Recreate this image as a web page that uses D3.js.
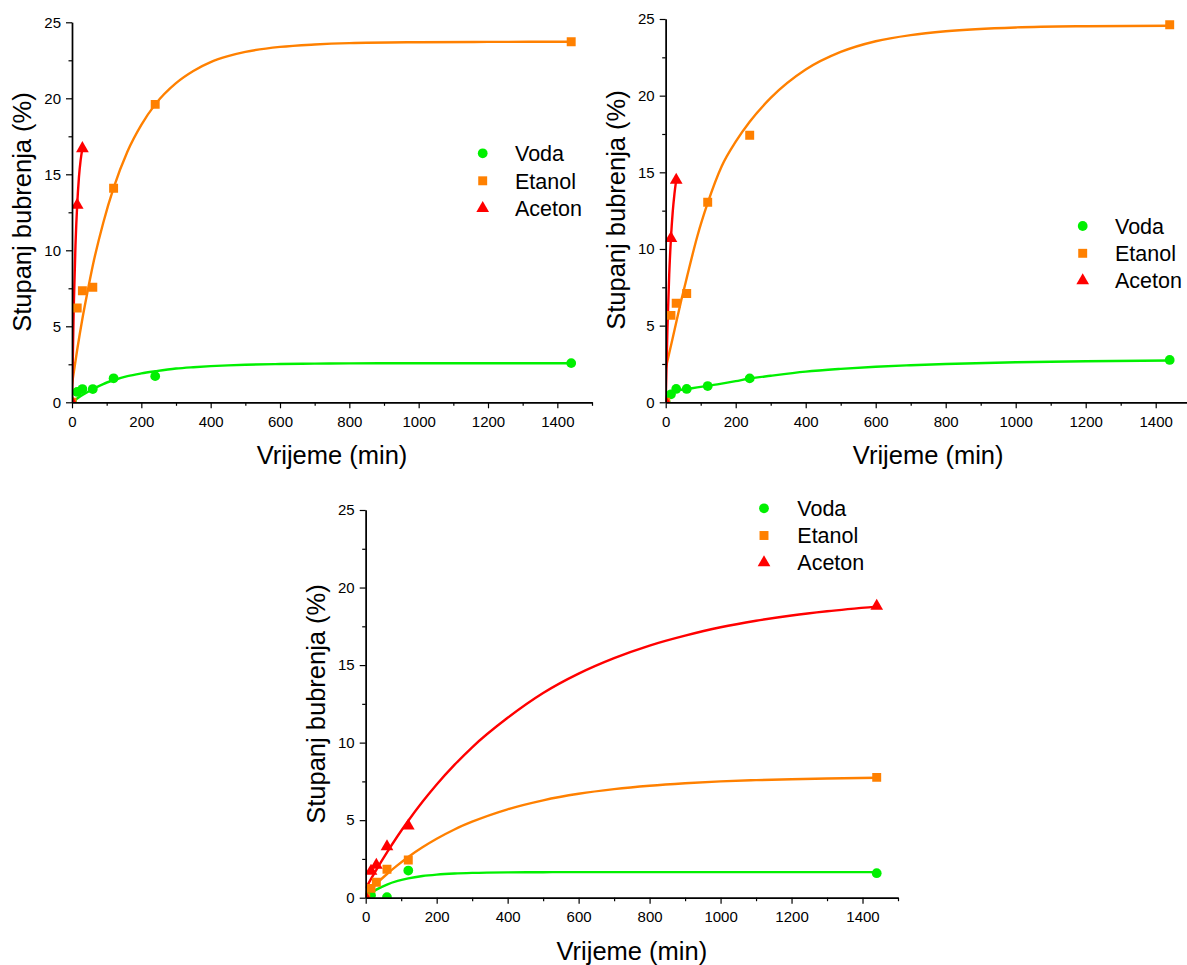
<!DOCTYPE html>
<html>
<head>
<meta charset="utf-8">
<script src="https://cdn.jsdelivr.net/npm/d3@7"></script>
<style>
  html, body { margin: 0; padding: 0; background: #fff; }
  svg text { font-family: "Liberation Sans", Arial, sans-serif; fill: #000; }
</style>
</head>
<body>
<script>
// ---------- DATA ----------
const seriesNames = ["Voda", "Etanol", "Aceton"];
const xTickLabels = [0, 200, 400, 600, 800, 1000, 1200, 1400];
const yTickLabels = [0, 5, 10, 15, 20, 25];
const xTitle = "Vrijeme (min)";
const yTitle = "Stupanj bubrenja (%)";

// Panel 1 (top left)
const times1 = [0, 15, 30, 60, 120, 240, 1440];
const voda1 = [0, 0.68, 0.87, 0.87, 1.58, 1.72, 2.58];
const etanol1 = [0, 6.2, 7.34, 7.57, 14.08, 19.6, 23.72];
const acetonTimes1 = [0, 15, 30];
const aceton1 = [0, 12.98, 16.7];
const fitT1 = [0, 15, 30, 45, 60, 90, 120, 160, 200, 240, 300, 350, 400, 450, 500, 600, 700, 800, 1000, 1200, 1440];
const fitVoda1 = [0, 0.25, 0.48, 0.68, 0.87, 1.2, 1.45, 1.72, 1.9, 2.04, 2.22, 2.31, 2.38, 2.43, 2.47, 2.52, 2.545, 2.56, 2.57, 2.57, 2.57];
const fitEtanol1 = [1.2, 3.46, 5.5, 7.3, 9.0, 11.8, 14.1, 16.5, 18.25, 19.6, 21.0, 21.8, 22.38, 22.77, 23.05, 23.38, 23.54, 23.63, 23.69, 23.71, 23.72];
const fitAcetonT1 = [0, 5, 10, 15, 20, 25, 30];
const fitAceton1 = [0, 6.2, 10.3, 13.0, 14.8, 15.95, 16.7];

// Panel 2 (top right)
const times2 = [0, 15, 30, 60, 120, 240, 1440];
const voda2 = [0, 0.52, 0.87, 0.87, 1.06, 1.56, 2.76];
const etanol2 = [0, 5.67, 6.46, 7.1, 13.05, 17.42, 24.63];
const acetonTimes2 = [0, 15, 30];
const aceton2 = [0, 10.7, 14.5];
const fitT2 = [0, 10, 20, 30, 45, 60, 90, 120, 160, 200, 240, 300, 400, 500, 600, 700, 800, 1000, 1200, 1440];
const fitVoda2 = [0.1, 0.45, 0.65, 0.75, 0.82, 0.87, 0.97, 1.07, 1.22, 1.38, 1.55, 1.73, 2.0, 2.18, 2.32, 2.42, 2.5, 2.61, 2.68, 2.73];
const fitEtanol2 = [2.2, 3.2, 4.2, 5.2, 6.7, 8.1, 10.8, 13.0, 15.4, 17.0, 18.3, 19.85, 21.7, 22.85, 23.55, 23.95, 24.2, 24.45, 24.53, 24.56];
const fitAcetonT2 = [0, 5, 10, 15, 20, 25, 30];
const fitAceton2 = [0, 4.85, 8.3, 10.7, 12.4, 13.6, 14.5];

// Panel 3 (bottom)
const vodaTimes3 = [0, 15, 60, 120, 1440];
const voda3 = [0, 0.15, 0.03, 1.75, 1.58];
const times3 = [0, 15, 30, 60, 120, 1440];
const etanol3 = [0, 0.6, 1.0, 1.83, 2.43, 7.76];
const aceton3 = [0, 1.72, 2.11, 3.29, 4.64, 18.8];
const fitT3 = [0, 15, 30, 60, 90, 120, 160, 200, 250, 300, 400, 500, 600, 700, 800, 900, 1000, 1100, 1200, 1300, 1440];
const fitVoda3 = [0.05, 0.3, 0.52, 0.85, 1.08, 1.25, 1.4, 1.49, 1.56, 1.6, 1.635, 1.645, 1.65, 1.65, 1.65, 1.65, 1.65, 1.65, 1.65, 1.65, 1.65];
const fitEtanol3 = [0.2, 0.56, 0.9, 1.53, 2.1, 2.63, 3.25, 3.8, 4.4, 4.9, 5.7, 6.28, 6.7, 7.0, 7.22, 7.38, 7.5, 7.58, 7.64, 7.69, 7.73];
const fitAceton3 = [0.6, 1.21, 1.8, 2.92, 3.98, 4.96, 6.18, 7.3, 8.56, 9.7, 11.6, 13.2, 14.45, 15.45, 16.26, 16.9, 17.44, 17.86, 18.2, 18.47, 18.77];

// ---------- STYLE / LAYOUT ----------
const colors = { Voda: "#00f000", Etanol: "#ff8000", Aceton: "#ff0000" };
const shapes = { Voda: d3.symbolCircle, Etanol: d3.symbolSquare, Aceton: d3.symbolTriangle };
const sizes = { Voda: 75, Etanol: 80, Aceton: 70 };

const layouts = [
  { id: "p1", left: 72, right: 592, top: 22.3, bottom: 402.3,
    legX: 482.7, legY: 153.3, legStep: 27.5, legTextX: 515,
    yTitleX: 31, yTitleY: 212, xTitleY: 464 },
  { id: "p2", left: 665.7, right: 1190.7, top: 19, bottom: 402.3,
    legX: 1082.7, legY: 226, legStep: 27.3, legTextX: 1115,
    yTitleX: 624.7, yTitleY: 210, xTitleY: 464 },
  { id: "p3", left: 365.7, right: 898, top: 510, bottom: 897.7,
    legX: 764, legY: 508.3, legStep: 27.2, legTextX: 797.3,
    yTitleX: 324.7, yTitleY: 704, xTitleY: 960 }
];

const panelData = [
  [
    { name: "Voda", t: times1, v: voda1, ft: fitT1, fv: fitVoda1 },
    { name: "Etanol", t: times1, v: etanol1, ft: fitT1, fv: fitEtanol1 },
    { name: "Aceton", t: acetonTimes1, v: aceton1, ft: fitAcetonT1, fv: fitAceton1 }
  ],
  [
    { name: "Voda", t: times2, v: voda2, ft: fitT2, fv: fitVoda2 },
    { name: "Etanol", t: times2, v: etanol2, ft: fitT2, fv: fitEtanol2 },
    { name: "Aceton", t: acetonTimes2, v: aceton2, ft: fitAcetonT2, fv: fitAceton2 }
  ],
  [
    { name: "Voda", t: vodaTimes3, v: voda3, ft: fitT3, fv: fitVoda3 },
    { name: "Etanol", t: times3, v: etanol3, ft: fitT3, fv: fitEtanol3 },
    { name: "Aceton", t: times3, v: aceton3, ft: fitT3, fv: fitAceton3 }
  ]
];

// ---------- DRAW ----------
const svg = d3.select("body").append("svg")
  .attr("width", 1187).attr("height", 965);

layouts.forEach((L, i) => {
  const x = d3.scaleLinear().domain([0, 1500]).range([L.left, L.right]);
  const y = d3.scaleLinear().domain([0, 25]).range([L.bottom, L.top]);
  const g = svg.append("g");

  svg.append("clipPath").attr("id", "clip-" + L.id)
    .append("rect")
    .attr("x", L.left).attr("y", L.top - 10)
    .attr("width", L.right - L.left).attr("height", L.bottom - L.top + 10);

  const plot = g.append("g").attr("clip-path", `url(#clip-${L.id})`);
  const series = panelData[i];

  const line = d3.line().x(d => x(d[0])).y(d => y(d[1])).curve(d3.curveMonotoneX);
  series.forEach(s => {
    plot.append("path")
      .datum(s.ft.map((t, k) => [t, s.fv[k]]))
      .attr("d", line)
      .attr("fill", "none")
      .attr("stroke", colors[s.name])
      .attr("stroke-width", 2.4);
  });
  series.forEach(s => {
    plot.selectAll(null)
      .data(s.t.map((t, k) => [t, s.v[k]]))
      .enter().append("path")
      .attr("transform", d => `translate(${x(d[0])},${y(d[1])})`)
      .attr("d", d3.symbol().type(shapes[s.name]).size(sizes[s.name]))
      .attr("fill", colors[s.name]);
  });

  // Axes
  const axisG = g.append("g").attr("class", "axes");
  const xMajor = d3.axisBottom(x).tickValues(xTickLabels).tickSize(6).tickSizeOuter(0)
    .tickPadding(8).tickFormat(d3.format("d"));
  const xMinor = d3.axisBottom(x).tickValues(d3.range(100, 1501, 200)).tickSize(3.5)
    .tickSizeOuter(0).tickFormat("");
  const yMajor = d3.axisLeft(y).tickValues(yTickLabels).tickSize(6).tickSizeOuter(0)
    .tickPadding(5).tickFormat(d3.format("d"));
  const yMinor = d3.axisLeft(y).tickValues(d3.range(2.5, 25, 5)).tickSize(3.5)
    .tickSizeOuter(0).tickFormat("");

  [
    axisG.append("g").attr("transform", `translate(0,${L.bottom})`).call(xMinor),
    axisG.append("g").attr("transform", `translate(0,${L.bottom})`).call(xMajor),
    axisG.append("g").attr("transform", `translate(${L.left},0)`).call(yMinor),
    axisG.append("g").attr("transform", `translate(${L.left},0)`).call(yMajor)
  ].forEach(a => {
    a.selectAll("path.domain").attr("stroke", "#000").attr("stroke-width", 1.4);
    a.selectAll("line").attr("stroke", "#000").attr("stroke-width", 1.2);
    a.selectAll("text").style("font-size", "15px").style("font-family", "'Liberation Sans', Arial, sans-serif").attr("fill", "#111");
  });

  // Titles (centred on the axis length)
  g.append("text")
    .attr("transform", `translate(${L.yTitleX},${L.yTitleY}) rotate(-90)`)
    .attr("text-anchor", "middle")
    .style("font-size", "25.5px")
    .text(yTitle);
  g.append("text")
    .attr("x", (L.left + L.right) / 2).attr("y", L.xTitleY)
    .attr("text-anchor", "middle")
    .style("font-size", "25.5px")
    .text(xTitle);

  // Legend
  seriesNames.forEach((n, k) => {
    const ly = L.legY + k * L.legStep;
    g.append("path")
      .attr("transform", `translate(${L.legX},${ly})`)
      .attr("d", d3.symbol().type(shapes[n]).size(sizes[n]))
      .attr("fill", colors[n]);
    g.append("text")
      .attr("x", L.legTextX).attr("y", ly)
      .attr("dy", "0.36em")
      .style("font-size", "21.5px")
      .text(n);
  });
});
</script>
</body>
</html>
